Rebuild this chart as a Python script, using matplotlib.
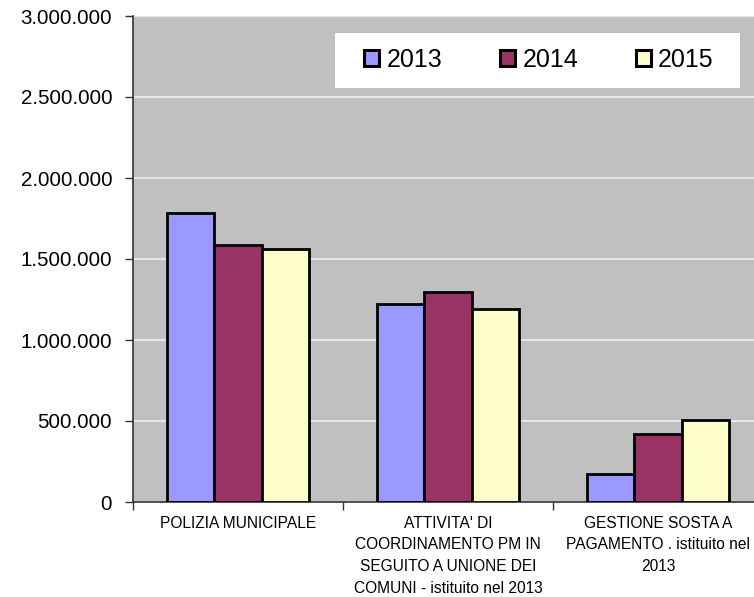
import numpy as np
import matplotlib
matplotlib.use("Agg")
from matplotlib import pyplot as plt
from matplotlib.patches import Patch, Rectangle

plt.rcParams["font.family"] = ["Liberation Sans", "DejaVu Sans"]

# data
categories = ["POLIZIA MUNICIPALE",
              "ATTIVITA' DI\nCOORDINAMENTO PM IN\nSEGUITO A UNIONE DEI\nCOMUNI - istituito nel 2013",
              "GESTIONE SOSTA A\nPAGAMENTO . istituito nel\n2013"]
years = ["2013", "2014", "2015"]
val_2013 = [1785000, 1222000, 173000]
val_2014 = [1586000, 1298000, 420000]
val_2015 = [1562000, 1192000, 505000]
y_ticks = [0, 500000, 1000000, 1500000, 2000000, 2500000, 3000000]
y_tick_labels = ["0", "500.000", "1.000.000", "1.500.000", "2.000.000", "2.500.000", "3.000.000"]

colors = ["#9999FF", "#993366", "#FFFFCC"]
series = [val_2013, val_2014, val_2015]

fig = plt.figure(figsize=(7.54, 5.97), dpi=100)
ax = fig.add_axes([133/754, 1 - 502/597, 630/754, 486/597])
ax.set_facecolor("#C0C0C0")

x = np.arange(len(categories))
w = 0.224
for i, (vals, col) in enumerate(zip(series, colors)):
    ax.bar(x + (i - 1) * w, vals, width=w, color=col, edgecolor="black",
           linewidth=2.0, zorder=3)

ax.set_xlim(-0.5, 2.5)
ax.set_ylim(0, 3000000)
ax.set_yticks(y_ticks)
ax.set_yticklabels(y_tick_labels, fontsize=14.8)
ax.yaxis.grid(True, color="#E6E6E6", linewidth=1.5, zorder=1)
ax.tick_params(axis="y", length=6, width=1, pad=9, color="#333333")

# category boundaries get the tick marks, labels sit in between
ax.set_xticks([-0.5, 0.5, 1.5, 2.5])
ax.set_xticklabels([])
ax.tick_params(axis="x", length=6, width=1, color="#333333")
ax.set_xticks(x, minor=True)
ax.set_xticklabels(categories, minor=True, fontsize=11.2, linespacing=1.55)
ax.tick_params(axis="x", which="minor", length=0, pad=10)

for s in ["top", "right"]:
    ax.spines[s].set_visible(False)
for s in ["left", "bottom"]:
    ax.spines[s].set_color("#333333")
    ax.spines[s].set_linewidth(1.2)

# white legend box, drawn separately so the padding can match
ax.add_patch(Rectangle((0.321, 0.852), 0.642, 0.113, transform=ax.transAxes,
                       facecolor="white", edgecolor="none", zorder=4))
handles = [Patch(facecolor=c, edgecolor="black", linewidth=2.2) for c in colors]
leg = ax.legend(handles, years, ncol=3, loc="center left",
                bbox_to_anchor=(0.3667, 0.9095), borderaxespad=0, borderpad=0,
                fontsize=18, frameon=False, handlelength=0.6,
                handleheight=0.6, handletextpad=0.3, columnspacing=2.3)
leg.set_zorder(5)

fig.savefig("out.png", dpi=100)
